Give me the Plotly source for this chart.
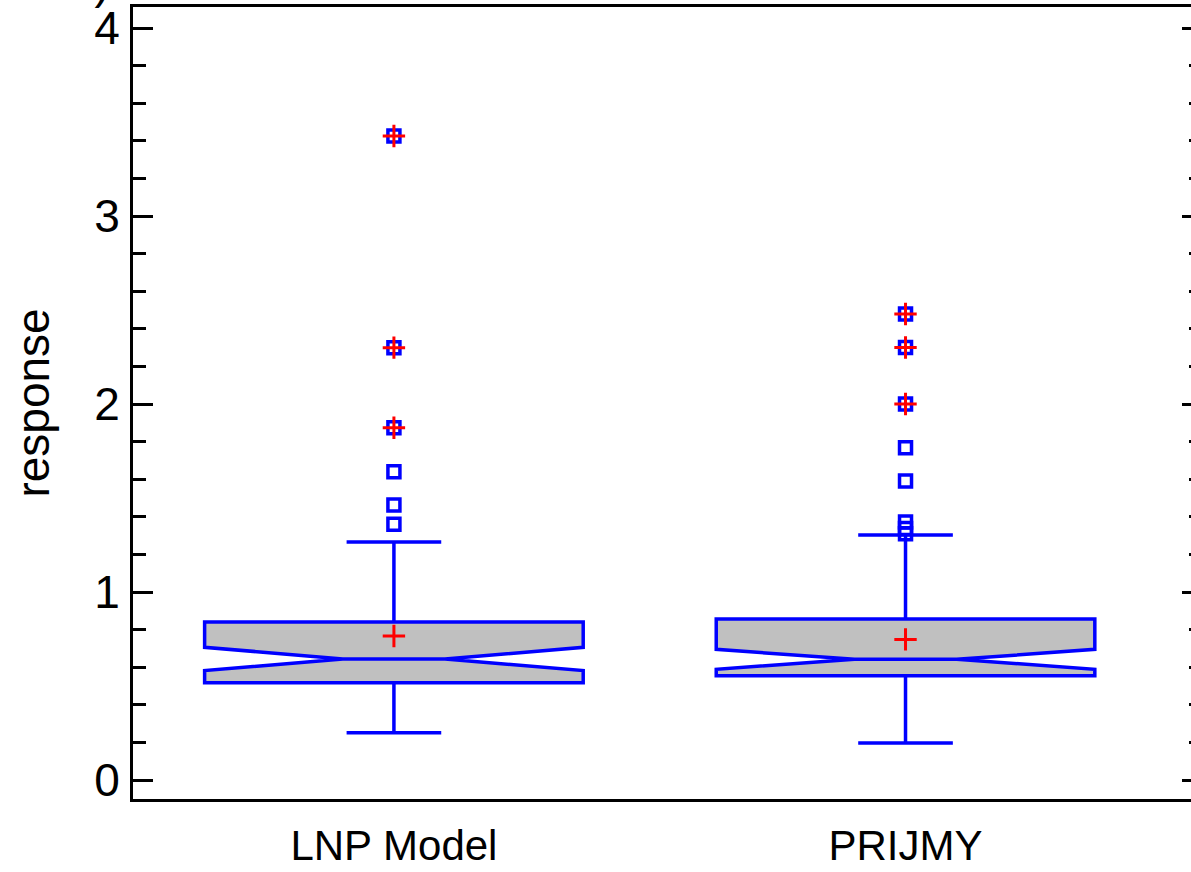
import plotly.graph_objects as go

categories = ["LNP Model", "PRIJMY"]
q1 = [0.518, 0.555]
median = [0.644, 0.642]
q3 = [0.840, 0.856]
lower_whisker = [0.252, 0.197]
upper_whisker = [1.266, 1.303]
notch_span = [0.062, 0.053]
means = [0.766, 0.748]

outliers_lnp = [3.426, 2.300, 1.874, 1.640, 1.463, 1.360]
outliers_prijmy = [2.479, 2.301, 2.000, 1.768, 1.590, 1.372, 1.338, 1.310]
far_lnp = [3.426, 2.300, 1.874]
far_prijmy = [2.479, 2.301, 2.000]

y_range = [-0.101, 4.112]
x_range = [-0.51, 1.558]

BLUE = "#0000FF"
RED = "#FF0000"
FONT = "Arial, Liberation Sans, sans-serif"

fig = go.Figure()

fig.add_trace(go.Box(
    x=categories, q1=q1, median=median, q3=q3,
    lowerfence=lower_whisker, upperfence=upper_whisker,
    notched=True, notchspan=notch_span, notchwidth=0.365,
    whiskerwidth=0.25, width=0.74,
    fillcolor="#C0C0C0", line=dict(color=BLUE, width=3.5),
    boxpoints=False, showlegend=False, hoverinfo="skip",
))

out_x = [categories[0]] * len(outliers_lnp) + [categories[1]] * len(outliers_prijmy)
out_y = outliers_lnp + outliers_prijmy
fig.add_trace(go.Scatter(
    x=out_x, y=out_y, mode="markers",
    marker=dict(symbol="square-open", size=12, color=BLUE, line=dict(color=BLUE, width=3.5)),
    showlegend=False, hoverinfo="skip",
))

far_x = [categories[0]] * len(far_lnp) + [categories[1]] * len(far_prijmy)
far_y = far_lnp + far_prijmy
fig.add_trace(go.Scatter(
    x=far_x + categories, y=far_y + means, mode="markers",
    marker=dict(symbol="cross-thin-open", size=16, color=RED, line=dict(color=RED, width=3)),
    showlegend=False, hoverinfo="skip",
))

# invisible trace to carry the right-hand tick axis
fig.add_trace(go.Scatter(x=[categories[0]], y=[None], yaxis="y2", showlegend=False, hoverinfo="skip"))

fig.update_layout(
    width=1191, height=872,
    margin=dict(l=133, r=0, t=7, b=73),
    paper_bgcolor="white", plot_bgcolor="white",
    font=dict(family=FONT, color="black"),
    xaxis=dict(
        type="category", range=x_range, showgrid=False, zeroline=False, automargin=False,
        showline=True, linecolor="black", linewidth=3, mirror=True,
        ticks="", tickfont=dict(size=42, color="black"),
        ticklabelstandoff=8,
    ),
    yaxis=dict(
        range=y_range, showgrid=False, zeroline=False, automargin=False,
        showline=True, linecolor="black", linewidth=3,
        ticks="inside", ticklen=20, tickwidth=3, tickcolor="black",
        tickvals=[0, 1, 2, 3, 4],
        tickfont=dict(size=46, color="black"), ticklabelstandoff=1,
        minor=dict(dtick=0.2, ticks="inside", ticklen=13, tickwidth=3, tickcolor="black"),
        title=dict(text="response", font=dict(size=46, color="black"), standoff=31),
    ),
    yaxis2=dict(
        range=y_range, overlaying="y", side="right", anchor="free", position=1, automargin=False,
        showgrid=False, zeroline=False, showline=False, showticklabels=False,
        ticks="inside", ticklen=9, tickwidth=3, tickcolor="black",
        tickvals=[0, 1, 2, 3, 4],
        minor=dict(dtick=0.2, ticks="inside", ticklen=2, tickwidth=3, tickcolor="black"),
    ),
    annotations=[dict(
        text="b)", xref="paper", yref="paper", x=-0.020, y=0.996,
        xanchor="right", yanchor="bottom", showarrow=False,
        font=dict(size=46, color="black"),
    )],
)

fig.write_html("out.html")
